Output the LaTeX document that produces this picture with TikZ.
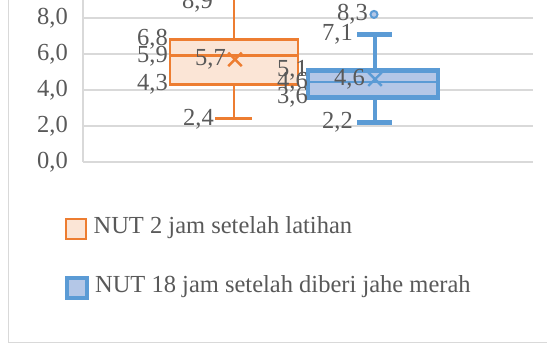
\documentclass[tikz,border=0pt]{standalone}
\usepackage{fontspec}
\setmainfont{Liberation Serif}
\usetikzlibrary{arrows.meta,positioning,shapes.misc}
\definecolor{nutorange}{HTML}{ED7D31}
\definecolor{nutorangefill}{HTML}{FBE5D6}
\definecolor{nutblue}{HTML}{5B9BD5}
\definecolor{nutbluefill}{HTML}{B4C7E7}
\definecolor{gridgray}{HTML}{D9D9D9}
\definecolor{labelgray}{HTML}{595959}
\begin{document}
\begin{tikzpicture}[x=1pt, y=-1pt, font=\fontsize{24.5}{27}\selectfont, >=Latex]
\tikzset{
  gridline/.style={draw=gridgray, line width=1.2pt},
  val/.style ={anchor=east, inner sep=0pt, text=labelgray},
  obox/.style={draw=nutorange, fill=nutorangefill, line width=2.8pt},
  bbox/.style={draw=nutblue, fill=nutbluefill, line width=4.8pt},
  oline/.style={draw=nutorange, line width=2.8pt},
  bline/.style={draw=nutblue, line width=4.8pt},
  meanx/.style={cross out, draw, minimum size=11pt, inner sep=0pt, line width=2.4pt},
  key/.style ={rectangle, minimum size=20pt, inner sep=0pt}
}
\useasboundingbox (0,0) rectangle (547,344);
\clip (0,0) rectangle (547,344);
% chart frame
\draw[gridgray, line width=1pt] (8,0) -- (8,343) -- (547,343);
\begin{scope}[shift={(0,162)}, x=1pt, y=18pt]
% grid and y axis
\foreach \v in {0,2,4,6,8}{
  \draw[gridline] (83,\v) -- (533,\v);
  \node[val] (ylab\v) at (68,\v) {\v,0};
}
\draw[gridline] (83,0) -- (83,9.5);
% NUT 2 jam setelah latihan
\draw[oline] (234,6.8) -- (234,9.5);
\draw[oline] (234,4.3) -- (234,2.4);
\draw[oline] (215,2.4) -- (252,2.4);
\draw[obox] (170,4.3) rectangle (298,6.8);
\draw[oline] (170,5.9) -- (298,5.9);
\node[meanx, draw=nutorange] (omean) at (235,5.7) {};
\node[val] (omax) at (213,8.9) {8,9};
\node[val] (oq3)  at (168,6.8) {6,8};
\node[val] (omed) at (168,5.9) {5,9};
\node[val] (oq1)  at (168,4.3) {4,3};
\node[val] (oavg) at (226,5.7) {5,7};
\node[val] (omin) at (214,2.4) {2,4};
% NUT 18 jam setelah diberi jahe merah
\draw[bline] (375,5.1) -- (375,7.1);
\draw[bline] (375,3.6) -- (375,2.2);
\draw[bline] (357,7.1) -- (392,7.1);
\draw[bline] (357,2.2) -- (392,2.2);
\draw[bbox] (308,3.6) rectangle (438,5.1);
\draw[bline, line width=2.5pt] (308,4.45) -- (438,4.45);
\node[meanx, draw=nutblue] (bmean) at (375,4.6) {};
\node[circle, draw=nutblue, fill=nutbluefill, line width=2pt, minimum size=7pt, inner sep=0pt] (bout) at (374,8.2) {};
\node[val] (bouttxt) at (368,8.2) {8,3};
\node[val] (bmax) at (353,7.1) {7,1};
\node[val] (bq3)  at (308,5.1) {5,1};
\node[val] (bmed) at (308,4.45) {4,6};
\node[val] (bq1)  at (308,3.6) {3,6};
\node[val] (bavg) at (365,4.6) {4,6};
\node[val] (bmin) at (353,2.2) {2,2};
\end{scope}
% legend
\node[key, draw=nutorange, fill=nutorangefill, line width=2.8pt] (okey) at (76,229) {};
\node[key, draw=nutblue, fill=nutbluefill, line width=3.8pt] (bkey) at (77,288) {};
\node[right=6pt of okey, inner sep=0pt, text=labelgray, yshift=1pt] (otxt) {NUT 2 jam setelah latihan};
\node[right=6pt of bkey, inner sep=0pt, text=labelgray, yshift=1pt] (btxt) {NUT 18 jam setelah diberi jahe merah};
\end{tikzpicture}
\end{document}
